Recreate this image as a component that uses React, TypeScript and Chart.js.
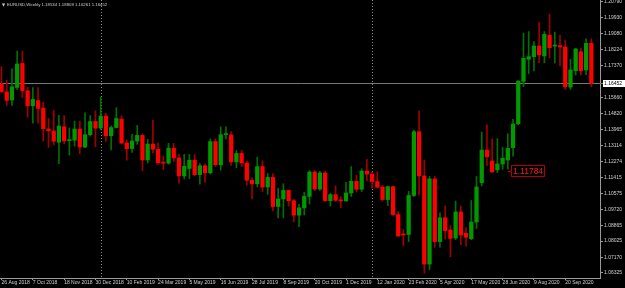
import React, { useEffect, useRef } from "react";
import { Chart, registerables } from "chart.js";

Chart.register(...registerables);

// Weekly EURUSD candles, first candle = week of 26 Aug 2018 (index 0), last = week of 25 Oct 2020 (index 113)
const OPEN = [
  1.1640, 1.1598, 1.1555, 1.1622, 1.1750, 1.1604, 1.1524, 1.1552, 1.1512, 1.1400,
  1.1390, 1.1330, 1.1412, 1.1338, 1.1341, 1.1400, 1.1304, 1.1370, 1.1440, 1.1405,
  1.1469, 1.1364, 1.1408, 1.1453, 1.1326, 1.1296, 1.1336, 1.1366, 1.1235, 1.1320,
  1.1292, 1.1220, 1.1218, 1.1298, 1.1246, 1.1150, 1.1190, 1.1234, 1.1157, 1.1204,
  1.1167, 1.1333, 1.1210, 1.1370, 1.1369, 1.1225, 1.1270, 1.1219, 1.1127, 1.1108,
  1.1200, 1.1091, 1.1143, 1.0987, 1.1027, 1.1073, 1.1018, 1.0941, 1.0980, 1.1041,
  1.1171, 1.1080, 1.1166, 1.1018, 1.1050, 1.1020, 1.1017, 1.1059, 1.1121, 1.1079,
  1.1176, 1.1160, 1.1120, 1.1090, 1.1024, 1.1093, 1.0944, 1.0838, 1.0838, 1.1046,
  1.1386, 1.1150, 1.0680, 1.1134, 1.0800, 1.0927, 1.0862, 1.0819, 1.0958, 1.0844,
  1.0815, 1.0904, 1.1114, 1.1288, 1.1230, 1.1182, 1.1214, 1.1235, 1.1301, 1.1428,
  1.1654, 1.1772, 1.1786, 1.1843, 1.1790, 1.1900, 1.1842, 1.1845, 1.1838, 1.1624,
  1.1711, 1.1812, 1.1715, 1.1857,
];
const HIGH = [
  1.1733, 1.1660, 1.1721, 1.1816, 1.1815, 1.1623, 1.1621, 1.1621, 1.1545, 1.1456,
  1.1500, 1.1473, 1.1472, 1.1406, 1.1442, 1.1442, 1.1486, 1.1472, 1.1497, 1.1570,
  1.1484, 1.1417, 1.1514, 1.1471, 1.1342, 1.1372, 1.1420, 1.1374, 1.1345, 1.1448,
  1.1325, 1.1255, 1.1324, 1.1324, 1.1265, 1.1265, 1.1264, 1.1264, 1.1216, 1.1215,
  1.1348, 1.1348, 1.1412, 1.1412, 1.1386, 1.1286, 1.1286, 1.1230, 1.1140, 1.1250,
  1.1230, 1.1163, 1.1163, 1.1084, 1.1109, 1.1075, 1.1025, 1.0999, 1.1063, 1.1179,
  1.1179, 1.1175, 1.1176, 1.1058, 1.1097, 1.1039, 1.1116, 1.1200, 1.1153, 1.1188,
  1.1239, 1.1170, 1.1173, 1.1100, 1.1096, 1.1096, 1.0960, 1.0864, 1.1068, 1.1395,
  1.1496, 1.1235, 1.1147, 1.1147, 1.0953, 1.0990, 1.0886, 1.1016, 1.0989, 1.0875,
  1.1019, 1.1147, 1.1384, 1.1422, 1.1348, 1.1349, 1.1302, 1.1375, 1.1452, 1.1659,
  1.1911, 1.1920, 1.1866, 1.1969, 1.1920, 1.2013, 1.1917, 1.1900, 1.1872, 1.1771,
  1.1831, 1.1832, 1.1881, 1.1881,
];
const LOW = [
  1.1592, 1.1526, 1.1526, 1.1611, 1.1569, 1.1463, 1.1432, 1.1432, 1.1336, 1.1302,
  1.1316, 1.1216, 1.1321, 1.1262, 1.1309, 1.1269, 1.1301, 1.1363, 1.1306, 1.1395,
  1.1334, 1.1289, 1.1405, 1.1323, 1.1234, 1.1276, 1.1318, 1.1177, 1.1220, 1.1273,
  1.1211, 1.1183, 1.1212, 1.1226, 1.1111, 1.1134, 1.1136, 1.1152, 1.1106, 1.1116,
  1.1160, 1.1201, 1.1181, 1.1347, 1.1206, 1.1193, 1.1200, 1.1101, 1.1027, 1.1091,
  1.1066, 1.1052, 1.0965, 1.0926, 1.0927, 1.0990, 1.0905, 1.0879, 1.0942, 1.1000,
  1.1072, 1.1073, 1.1014, 1.0989, 1.1014, 1.0981, 1.1016, 1.1040, 1.1065, 1.1067,
  1.1125, 1.1085, 1.1086, 1.1016, 1.0992, 1.0940, 1.0828, 1.0778, 1.0800, 1.1040,
  1.1048, 1.0631, 1.0650, 1.0770, 1.0770, 1.0814, 1.0719, 1.0810, 1.0783, 1.0775,
  1.0810, 1.0870, 1.1097, 1.1205, 1.1168, 1.1168, 1.1185, 1.1186, 1.1255, 1.1423,
  1.1626, 1.1696, 1.1710, 1.1754, 1.1753, 1.1780, 1.1752, 1.1737, 1.1612, 1.1612,
  1.1688, 1.1688, 1.1690, 1.1626,
];
const CLOSE = [
  1.1600, 1.1553, 1.1625, 1.1747, 1.1604, 1.1524, 1.1558, 1.1510, 1.1402, 1.1391,
  1.1335, 1.1416, 1.1337, 1.1341, 1.1400, 1.1304, 1.1370, 1.1440, 1.1405, 1.1469,
  1.1364, 1.1408, 1.1456, 1.1325, 1.1295, 1.1336, 1.1366, 1.1235, 1.1320, 1.1292,
  1.1220, 1.1218, 1.1298, 1.1246, 1.1150, 1.1201, 1.1234, 1.1157, 1.1204, 1.1167,
  1.1333, 1.1210, 1.1370, 1.1372, 1.1225, 1.1270, 1.1219, 1.1127, 1.1108, 1.1200,
  1.1091, 1.1143, 1.0987, 1.1027, 1.1073, 1.1018, 1.0941, 1.0980, 1.1041, 1.1171,
  1.1080, 1.1166, 1.1018, 1.1050, 1.1020, 1.1017, 1.1059, 1.1121, 1.1079, 1.1176,
  1.1160, 1.1120, 1.1090, 1.1024, 1.1093, 1.0944, 1.0830, 1.0835, 1.1046, 1.1386,
  1.1150, 1.0680, 1.1134, 1.0800, 1.0927, 1.0858, 1.0817, 1.0958, 1.0835, 1.0823,
  1.0904, 1.1091, 1.1288, 1.1252, 1.1172, 1.1214, 1.1244, 1.1297, 1.1427, 1.1655,
  1.1777, 1.1786, 1.1843, 1.1795, 1.1905, 1.1834, 1.1848, 1.1838, 1.1626, 1.1715,
  1.1827, 1.1711, 1.1857, 1.1645,
];

const X_TICK_INDEX = [0, 6, 12, 18, 24, 30, 36, 42, 48, 54, 60, 66, 72, 78, 84, 90, 96, 102, 108];
const X_TICK_LABELS = [
  "26 Aug 2018", "7 Oct 2018", "18 Nov 2018", "30 Dec 2018", "10 Feb 2019", "24 Mar 2019",
  "5 May 2019", "16 Jun 2019", "28 Jul 2019", "8 Sep 2019", "20 Oct 2019", "1 Dec 2019",
  "12 Jan 2020", "23 Feb 2020", "5 Apr 2020", "17 May 2020", "28 Jun 2020", "9 Aug 2020",
  "20 Sep 2020",
];
const Y_TICK_LABELS = [
  "1.20790", "1.19930", "1.19080", "1.18224", "1.17370", "1.15660", "1.14820", "1.13965",
  "1.13114", "1.12274", "1.11415", "1.10575", "1.09720", "1.08865", "1.08025", "1.07170", "1.06325",
];
const SEPARATOR_INDEX = [19, 71];
const BID_PRICE = 1.16452;
const BID_TEXT = "1.16452";
const TITLE_TEXT = "EURUSD,Weekly 1.18534 1.18809 1.16261 1.16452";
const NOTE_PRICE = 1.11784;
const NOTE_TEXT = "1.11784";
const NOTE_INDEX = 97.6;

const X_MIN = -0.29;
const X_MAX = 114.66;
const Y_MIN = 1.06058;
const Y_MAX = 1.20881;

const UP_BODY = "#009a00";
const DOWN_BODY = "#ff0000";
const UP_WICK = "#007000";
const DOWN_WICK = "#a00000";
const AXIS_COLOR = "#9a9a9a";
const TEXT_COLOR = "#d0d0d0";
const FONT = "'Liberation Sans', Arial, sans-serif";

const mtPlugin = {
  id: "mtDecor",
  beforeDraw(chart: any) {
    const { ctx, width, height } = chart;
    ctx.save();
    ctx.fillStyle = "#000000";
    ctx.fillRect(0, 0, width, height);
    ctx.restore();
  },
  beforeDatasetsDraw(chart: any) {
    const { ctx, chartArea } = chart;
    const xs = chart.scales.x;
    const ys = chart.scales.y;
    ctx.save();
    ctx.strokeStyle = "#8a8a8a";
    ctx.lineWidth = 1;
    ctx.setLineDash([1, 2]);
    SEPARATOR_INDEX.forEach((i) => {
      const x = Math.round(xs.getPixelForValue(i)) + 0.5;
      ctx.beginPath();
      ctx.moveTo(x, chartArea.top);
      ctx.lineTo(x, chartArea.bottom);
      ctx.stroke();
    });
    ctx.setLineDash([]);
    const by = Math.round(ys.getPixelForValue(BID_PRICE)) + 0.5;
    ctx.strokeStyle = "#777777";
    ctx.beginPath();
    ctx.moveTo(chartArea.left, by);
    ctx.lineTo(chartArea.right + 3, by);
    ctx.stroke();
    ctx.restore();
  },
  afterDraw(chart: any) {
    const { ctx, chartArea } = chart;
    const xs = chart.scales.x;
    const ys = chart.scales.y;
    ctx.save();
    // title
    ctx.fillStyle = TEXT_COLOR;
    ctx.textBaseline = "middle";
    ctx.textAlign = "left";
    ctx.font = `4px 'DejaVu Sans', sans-serif`;
    ctx.fillText("\u25BC", 2, 4.5);
    ctx.font = `4.3px ${FONT}`;
    ctx.fillText(TITLE_TEXT, 7, 4.5);
    // bid label
    const by = ys.getPixelForValue(BID_PRICE);
    ctx.fillStyle = "#ffffff";
    ctx.fillRect(chartArea.right + 3, Math.round(by) - 3, 22, 7);
    ctx.fillStyle = "#000000";
    ctx.font = `5px ${FONT}`;
    ctx.fillText(BID_TEXT, chartArea.right + 4, Math.round(by) + 0.5);
    // note label
    const nx = xs.getPixelForValue(NOTE_INDEX);
    const ny = ys.getPixelForValue(NOTE_PRICE);
    ctx.strokeStyle = "#b00000";
    ctx.lineWidth = 1;
    ctx.beginPath();
    ctx.moveTo(nx - 3, Math.round(ny) + 0.5);
    ctx.lineTo(nx, Math.round(ny) + 0.5);
    ctx.stroke();
    ctx.fillStyle = "#000000";
    ctx.fillRect(nx, ny - 5.5, 33, 11);
    ctx.strokeRect(Math.round(nx) + 0.5, Math.round(ny - 5.5) + 0.5, 33, 11);
    ctx.fillStyle = "#ff1a1a";
    ctx.font = `8.5px ${FONT}`;
    ctx.fillText(NOTE_TEXT, Math.round(nx) + 2, Math.round(ny) + 1);
    ctx.restore();
  },
};

export default function App() {
  const ref = useRef<HTMLCanvasElement | null>(null);
  useEffect(() => {
    const canvas = ref.current;
    if (!canvas) return;
    const up = OPEN.map((o, i) => CLOSE[i] >= o);
    const chart = new Chart(canvas, {
      type: "bar",
      data: {
        datasets: [
          {
            label: "body",
            data: OPEN.map((o, i) => ({ x: i, y: [o, CLOSE[i]] })) as any,
            backgroundColor: up.map((u) => (u ? UP_BODY : DOWN_BODY)),
            borderWidth: 0,
            barThickness: 3.6,
            minBarLength: 1,
            grouped: false,
            order: 0,
          } as any,
          {
            label: "wick",
            data: LOW.map((l, i) => ({ x: i, y: [l, HIGH[i]] })) as any,
            backgroundColor: up.map((u) => (u ? UP_WICK : DOWN_WICK)),
            borderWidth: 0,
            barThickness: 1,
            grouped: false,
            order: 1,
          } as any,
        ],
      },
      options: {
        animation: false,
        responsive: false,
        devicePixelRatio: 1,
        layout: { padding: 0 },
        plugins: { legend: { display: false }, tooltip: { enabled: false }, title: { display: false } },
        scales: {
          x: {
            type: "linear",
            min: X_MIN,
            max: X_MAX,
            bounds: "data",
            offset: false,
            grid: { display: true, offset: false, drawOnChartArea: false, drawTicks: true, tickLength: 2, color: AXIS_COLOR },
            border: { display: true, color: AXIS_COLOR },
            ticks: {
              autoSkip: false,
              maxRotation: 0,
              minRotation: 0,
              align: "start",
              padding: 0,
              color: TEXT_COLOR,
              font: { size: 5, family: FONT },
              callback: (_v: any, idx: number) => X_TICK_LABELS[idx],
            },
            afterBuildTicks: (scale: any) => {
              scale.ticks = X_TICK_INDEX.map((v) => ({ value: v }));
            },
            afterFit: (scale: any) => {
              scale.height = 10;
              scale.paddingLeft = 0;
              scale.paddingRight = 0;
            },
          } as any,
          y: {
            type: "linear",
            position: "right",
            min: Y_MIN,
            max: Y_MAX,
            bounds: "data",
            grid: { display: true, drawOnChartArea: false, drawTicks: true, tickLength: 3, color: AXIS_COLOR },
            border: { display: true, color: AXIS_COLOR },
            ticks: {
              padding: 1,
              color: TEXT_COLOR,
              font: { size: 5, family: FONT },
              callback: (_v: any, idx: number) => Y_TICK_LABELS[idx],
            },
            afterBuildTicks: (scale: any) => {
              scale.ticks = Y_TICK_LABELS.map((s) => ({ value: parseFloat(s) }));
            },
            afterFit: (scale: any) => {
              scale.width = 25;
              scale.paddingTop = 0;
              scale.paddingBottom = 0;
            },
          } as any,
        },
      },
      plugins: [mtPlugin],
    });
    return () => chart.destroy();
  }, []);
  return (
    <div style={{ position: "fixed", left: 0, top: 0, width: 625, height: 288, background: "#000" }}>
      <canvas ref={ref} width={625} height={288} style={{ display: "block", width: 625, height: 288 }} />
    </div>
  );
}
